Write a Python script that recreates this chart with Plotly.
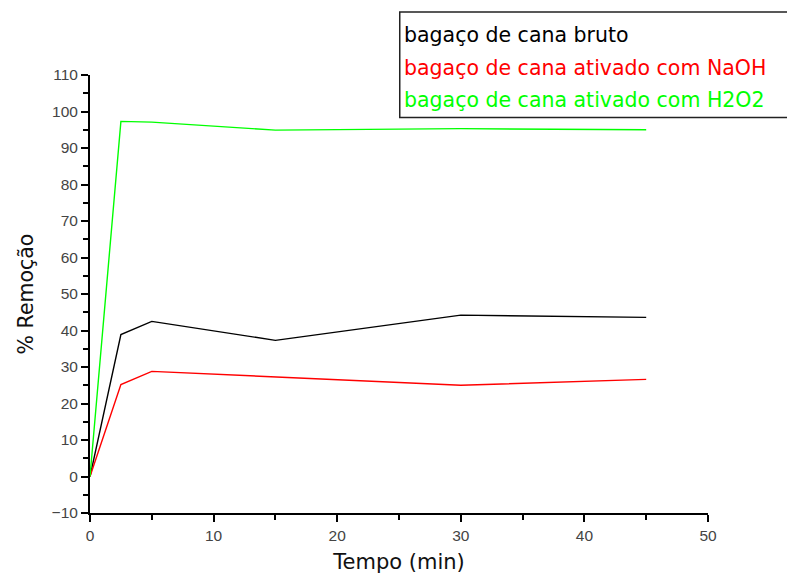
import plotly.graph_objects as go

tempo = [0, 2.5, 5, 15, 30, 45]
bruto = [0, 38.9, 42.5, 37.3, 44.2, 43.6]
naoh = [0, 25.2, 28.8, 27.2, 25.0, 26.6]
h2o2 = [0, 97.3, 97.1, 94.9, 95.3, 95.0]

names = ["bagaço de cana bruto",
         "bagaço de cana ativado com NaOH",
         "bagaço de cana ativado com H2O2"]
colors = ["#000000", "#ff0000", "#00ff00"]
series = [bruto, naoh, h2o2]

x_ticks = [0, 10, 20, 30, 40, 50]
y_ticks = [-10, 0, 10, 20, 30, 40, 50, 60, 70, 80, 90, 100, 110]

# page body has an 8px margin; figure coordinates are offset by it
OFF = 8
W, H = 795 - OFF, 581 - OFF
ml, mt = 90 - OFF, 75 - OFF
mr = W - (708.5 - OFF)
mb = H - (513 - OFF)

fig = go.Figure()
for name, col, ys in zip(names, colors, series):
    fig.add_trace(go.Scatter(x=tempo, y=ys, mode="lines", name=name,
                             line=dict(color=col, width=1.4), showlegend=False))

font = "Liberation Sans, Arial, sans-serif"
tfont = "DejaVu Sans, Verdana, sans-serif"
fig.update_layout(
    width=W, height=H,
    margin=dict(l=ml, r=mr, t=mt, b=mb),
    paper_bgcolor="white", plot_bgcolor="white",
    font=dict(family=font, color="#222222"),
    xaxis=dict(range=[0, 50], tickvals=x_ticks, showgrid=False, zeroline=False,
               showline=True, linecolor="black", linewidth=2,
               ticks="outside", ticklen=7, tickwidth=2, tickcolor="black",
               minor=dict(dtick=5, ticks="outside", ticklen=5, tickwidth=2, tickcolor="black"),
               tickfont=dict(size=15.5, color="#444444"),
               title=dict(text="Tempo (min)", font=dict(size=21, color="#111111", family=tfont), standoff=12)),
    yaxis=dict(range=[-10, 110], tickvals=y_ticks, showgrid=False, zeroline=False,
               showline=True, linecolor="black", linewidth=2,
               ticks="outside", ticklen=7, tickwidth=2, tickcolor="black",
               minor=dict(dtick=5, ticks="outside", ticklen=5, tickwidth=2, tickcolor="black"),
               tickfont=dict(size=15.5, color="#444444"),
               title=dict(text="% Remoção", font=dict(size=20.5, color="#111111", family=tfont), standoff=12)),
)

pw = W - ml - mr
ph = H - mt - mb
def px_to_paper_x(px):
    return (px - OFF - ml) / pw
def px_to_paper_y(py):
    return (H - mb - (py - OFF)) / ph

fig.add_shape(type="rect", xref="paper", yref="paper",
              x0=px_to_paper_x(400), x1=px_to_paper_x(805),
              y0=px_to_paper_y(117.5), y1=px_to_paper_y(12),
              line=dict(color="#222222", width=1.5), fillcolor="white", layer="above")

for i, (name, col) in enumerate(zip(names, colors)):
    fig.add_annotation(xref="paper", yref="paper",
                       x=px_to_paper_x(402), y=px_to_paper_y(35 + 32.5 * i),
                       xanchor="left", yanchor="middle", showarrow=False,
                       text=name, font=dict(size=20.5, color=col, family=tfont))

fig.write_html("out.html")
